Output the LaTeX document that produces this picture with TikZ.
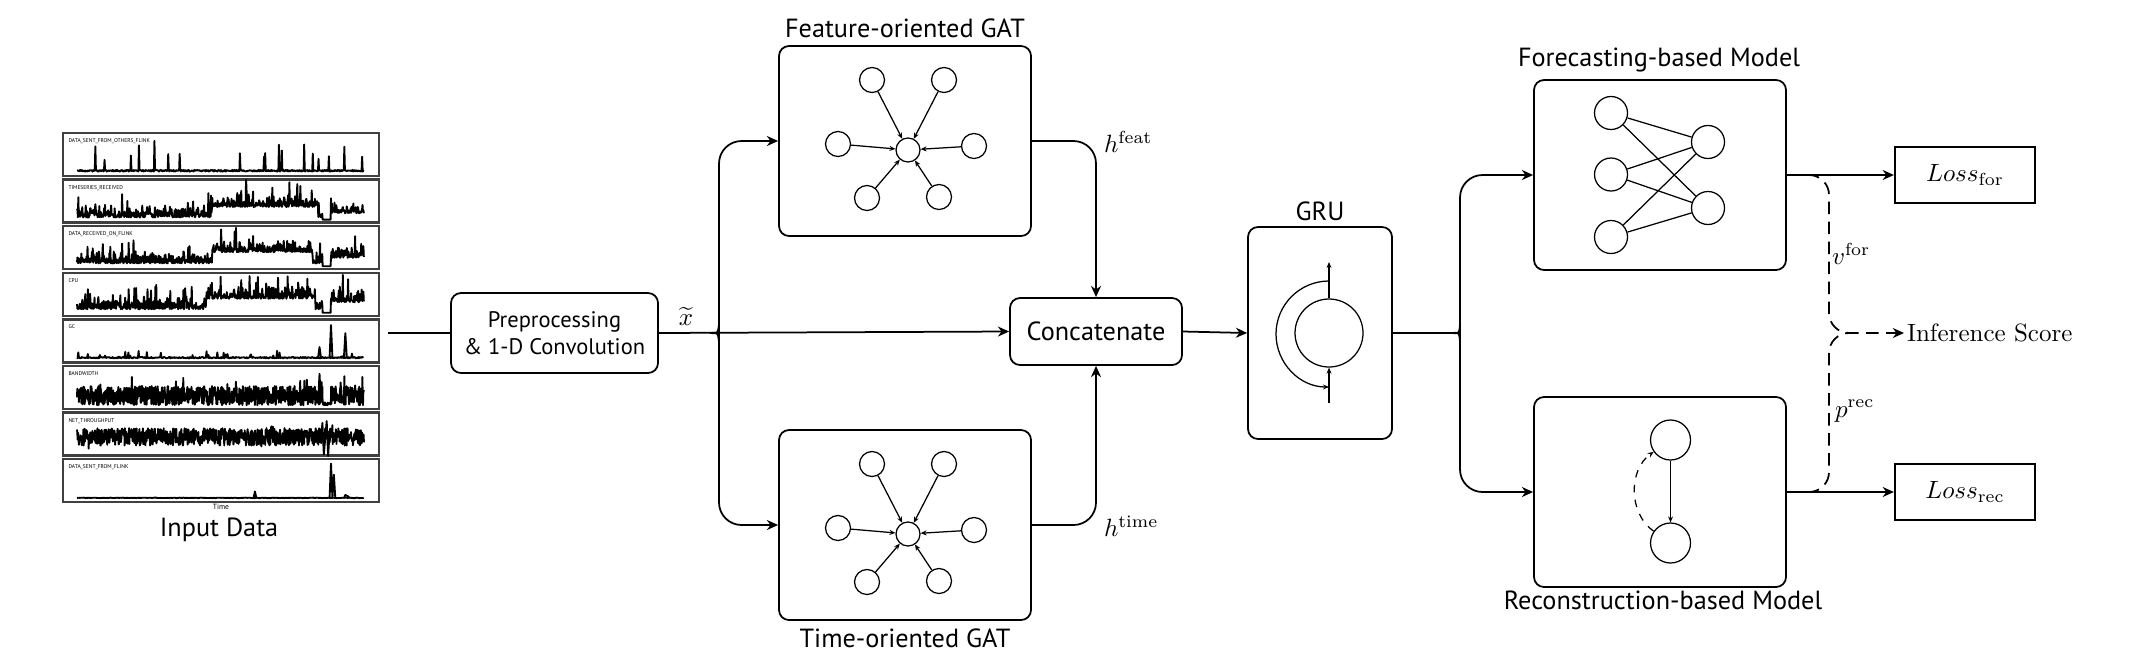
\documentclass[tikz,border=0pt]{standalone}
\usepackage{fontspec}
\newfontfamily\labelfont{PT Sans}
\usetikzlibrary{arrows.meta,positioning}

\tikzset{
	block/.style = {draw, line width = 0.7pt, rounded corners = 4pt, inner sep = 0pt, align = center, font = \labelfont\fontsize{10.5}{12.5}\selectfont},
	lossbox/.style = {draw, line width = 0.7pt, inner sep = 0pt, minimum width = 56.2pt, minimum height = 22.4pt},
	title/.style = {font = \labelfont\fontsize{10.5}{12.5}\selectfont},
	wire/.style = {line width = 0.7pt},
	conn/.style = {line width = 0.7pt, -{Stealth[length = 4.5pt, width = 4pt]}},
	gnode/.style = {draw, circle, line width = 0.5pt, inner sep = 0pt},
	garrow/.style = {line width = 0.5pt, -{Stealth[length = 2.4pt, width = 2pt]}},
	panel/.style = {draw = black!75, line width = 0.9pt},
	series/.style = {line width = 0.75pt, line join = round},
}

%	one time series inside panel #1
\def\panelseries#1#2#3#4{%
	\begin{scope}[shift = {(77, {173 + 46.6*#1})}, x = 114.8pt, y = 14pt]
		\draw[series] plot[samples = #2, domain = 0:1] (\x, {#3});
		#4
	\end{scope}}

\begin{document}
\begin{tikzpicture}[x = 0.4pt, y = -0.4pt]
	\useasboundingbox (0, 0) rectangle (2156, 667);
	\pgfmathsetseed{2156}
	
	%	input data
	\foreach \name [count = \i from 0] in {DATA\_SENT\_FROM\_OTHERS\_FLINK, TIMESERIES\_RECEIVED, DATA\_RECEIVED\_ON\_FLINK, CPU, GC, BANDWIDTH, NET\_THROUGHPUT, DATA\_SENT\_FROM\_FLINK}{
		\pgfmathsetmacro\yt{133 + 46.6*\i}
		\draw[panel] (63, \yt) rectangle (379, {\yt + 43});
		\node[anchor = north west, inner sep = 0pt, font = \labelfont\fontsize{2.2}{2.5}\selectfont] at (68, {\yt + 5}) {\name};
	}
	\panelseries{0}{500}{0.04 + 0.05*rnd + (rnd < 0.035)*(0.25 + 0.7*rnd)}{}
	\panelseries{1}{650}{(1 - (\x > 0.855)*(\x < 0.885))*(0.06 + 0.3*(\x > 0.47)*(\x < 0.84) + 0.12*(\x > 0.885) + 0.38*rnd*rnd + (rnd < 0.04)*(0.3 + 0.35*rnd))}{}
	\panelseries{2}{650}{(1 - (\x > 0.855)*(\x < 0.885))*(0.08 + 0.32*(\x > 0.47)*(\x < 0.82) + 0.15*(\x > 0.885) + 0.36*rnd*rnd + (rnd < 0.04)*(0.25 + 0.35*rnd))}{}
	\panelseries{3}{650}{(1 - (\x > 0.855)*(\x < 0.885))*(0.1 + 0.3*(\x > 0.45)*(\x < 0.83) + 0.2*(\x > 0.885) + 0.4*rnd*rnd + (rnd < 0.04)*(0.3 + 0.35*rnd))}{}
	\panelseries{4}{450}{0.03 + 0.04*rnd + (rnd < 0.08)*0.2*rnd}{
		\draw[series] (0.84, 0.05) -- (0.845, 0.35) -- (0.85, 0.05);
		\draw[series] (0.88, 0.05) -- (0.885, 0.98) -- (0.89, 0.05);
		\draw[series] (0.93, 0.05) -- (0.935, 0.75) -- (0.94, 0.05);}
	\panelseries{5}{900}{0.02 + (1 - 0.85*(\x > 0.855)*(\x < 0.885))*(0.55*rnd + (rnd < 0.03)*0.3)}{
		\draw[series] (0.84, 0.1) -- (0.845, 0.92) -- (0.85, 0.1);}
	\panelseries{6}{900}{0.2 + 0.5*rnd + (rnd < 0.04)*0.3*(2*rnd - 1)}{
		\draw[series] (0.85, 0.3) -- (0.855, 0.85) -- (0.86, -0.05) -- (0.87, 0.9) -- (0.875, -0.1) -- (0.88, 0.6);}
	\panelseries{7}{200}{0.03 + 0.015*rnd}{
		\draw[series] (0.615, 0.03) -- (0.62, 0.22) -- (0.625, 0.03);
		\draw[series] (0.88, 0.03) -- (0.885, 1.02) -- (0.89, 0.03) -- (0.895, 0.7) -- (0.9, 0.03);
		\draw[series] (0.93, 0.03) -- (0.935, 0.12) -- (0.945, 0.08) -- (0.95, 0.03);}
	\node[inner sep = 0pt, font = \labelfont\fontsize{3}{3.5}\selectfont] at (221, 507) {Time};
	\node[title] at (219, 530) {Input Data};
	
	%	preprocessing
	\coordinate (dataout) at (388, 333);
	\node[block, minimum width = 82.8pt, minimum height = 32pt, font = \labelfont\fontsize{9}{11}\selectfont] (pre) at (554.5, 333) {Preprocessing\\\& 1-D Convolution};
	\draw[wire] (dataout) -- (pre.west);
	\node[inner sep = 1pt] at (686, 316) {$\widetilde{x}$};
	
	%	GAT blocks
	\node[block, minimum width = 100.8pt, minimum height = 76pt] (feat) at (905, 141) {};
	\node[title] at (905, 28) {Feature-oriented GAT};
	\node[block, minimum width = 100.8pt, minimum height = 76pt] (time) at (905, 525) {};
	\node[title] at (905, 638) {Time-oriented GAT};
	\foreach \g/\cy in {f/150, t/534}{
		\node[gnode, minimum size = 9.6pt] (\g c) at (908, \cy) {};
		\foreach \dx/\dy [count = \i] in {-36/-70, 36/-70, -70/-6, 66/-4, -41/48, 31/47}{
			\node[gnode, minimum size = 10pt] (\g\i) at ({908 + \dx}, {\cy + \dy}) {};
			\draw[garrow] (\g\i) -- (\g c);
		}
	}
	
	%	concatenate
	\node[block, minimum width = 68.8pt, minimum height = 26.8pt] (concat) at (1096, 331.5) {Concatenate};
	\draw[conn] (pre.east) -- (concat.west);
	\draw[conn, rounded corners = 9pt] (710, 333) .. controls (716, 333) and (719, 330) .. (719, 324) |- (feat.west);
	\draw[conn, rounded corners = 9pt] (710, 333) .. controls (716, 333) and (719, 336) .. (719, 342) |- (time.west);
	\draw[conn, rounded corners = 9pt] (feat.east) -| (concat.north);
	\draw[conn, rounded corners = 9pt] (time.east) -| (concat.south);
	\node[anchor = west, inner sep = 1pt] at (1101, 142) {$h^{\mathrm{feat}}$};
	\node[anchor = west, inner sep = 1pt] at (1101, 526) {$h^{\mathrm{time}}$};
	
	%	GRU
	\node[block, minimum width = 57.6pt, minimum height = 84.8pt] (gru) at (1320, 333) {};
	\node[title] at (1320, 211) {GRU};
	\node[gnode, minimum size = 27.2pt] (cell) at (1329, 333) {};
	\coordinate (cellout) at (1329, 262);
	\coordinate (cellin) at (1329, 403);
	\draw[garrow] (cell.north) -- (cellout);
	\draw[garrow] (cellin) -- (cell.south);
	\draw[garrow] (1329, 281) arc[start angle = 90, end angle = 270, radius = 21.2pt];
	\draw[conn] (concat.east) -- (gru.west);
	
	%	forecasting and reconstruction
	\node[block, minimum width = 100.8pt, minimum height = 76pt] (fore) at (1660, 175) {};
	\node[title] at (1659, 60) {Forecasting-based Model};
	\foreach \y [count = \i] in {113, 174.5, 237}
		\node[gnode, minimum size = 13.2pt] (in\i) at (1611, \y) {};
	\foreach \y [count = \i] in {142, 208}
		\node[gnode, minimum size = 13.2pt] (out\i) at (1708, \y) {};
	\foreach \i in {1, 2, 3}
		\foreach \j in {1, 2}
			\draw[line width = 0.5pt] (in\i) -- (out\j);
	
	\node[block, minimum width = 100.8pt, minimum height = 76pt] (recon) at (1660, 492) {};
	\node[title] at (1663, 600) {Reconstruction-based Model};
	\node[gnode, minimum size = 16pt] (enc) at (1670.5, 440) {};
	\node[gnode, minimum size = 16pt] (dec) at (1670.5, 543) {};
	\draw[garrow] (enc) -- (dec);
	\draw[garrow, dashed] (dec) to[bend left = 55] (enc);
	
	\draw[wire] (gru.east) -- (1453, 333);
	\draw[conn, rounded corners = 9pt] (1452, 333) .. controls (1458, 333) and (1460, 330) .. (1460, 324) |- (fore.west);
	\draw[conn, rounded corners = 9pt] (1452, 333) .. controls (1458, 333) and (1460, 336) .. (1460, 342) |- (recon.west);
	
	%	losses and score
	\node[lossbox] (lfor) at (1965, 175) {$Loss_{\mathrm{for}}$};
	\node[lossbox] (lrec) at (1965, 492) {$Loss_{\mathrm{rec}}$};
	\draw[conn] (fore.east) -- (lfor.west);
	\draw[conn] (recon.east) -- (lrec.west);
	
	\node[anchor = west, inner sep = 1pt] (score) at (1904, 333) {Inference Score};
	\coordinate (join) at (1852, 333);
	\draw[conn, dash pattern = on 5pt off 3pt, rounded corners = 8pt] (fore.east) -| (1829, 333) -- (score.west);
	\draw[wire, dash pattern = on 5pt off 3pt, rounded corners = 8pt] (recon.east) -| (1829, 333) -- (join);
	\node[anchor = west, inner sep = 1pt] at (1829, 254) {$v^{\mathrm{for}}$};
	\node[anchor = west, inner sep = 1pt] at (1832, 411) {$p^{\mathrm{rec}}$};
\end{tikzpicture}
\end{document}
